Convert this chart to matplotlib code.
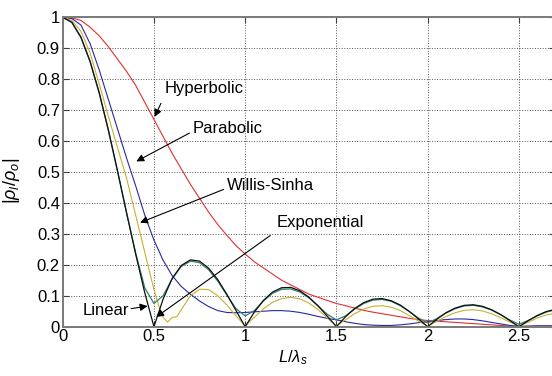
import matplotlib
matplotlib.use("Agg")
import matplotlib.pyplot as plt

# L / lambda_s sample positions (shared by most curves)
l_ratio = [0.00, 0.05, 0.10, 0.15, 0.20, 0.25, 0.30, 0.35, 0.40, 0.45,
           0.50, 0.55, 0.60, 0.65, 0.70, 0.75, 0.80, 0.85, 0.90, 0.95,
           1.00, 1.05, 1.10, 1.15, 1.20, 1.25, 1.30, 1.35, 1.40, 1.45,
           1.50, 1.55, 1.60, 1.65, 1.70, 1.75, 1.80, 1.85, 1.90, 1.95,
           2.00, 2.05, 2.10, 2.15, 2.20, 2.25, 2.30, 2.35, 2.40, 2.45,
           2.50, 2.55, 2.60, 2.65, 2.70]

exponential = [1.000, 0.984, 0.936, 0.858, 0.757, 0.637, 0.505, 0.368, 0.234, 0.109,
               0.000, 0.089, 0.156, 0.198, 0.216, 0.212, 0.189, 0.152, 0.104, 0.052,
               0.000, 0.047, 0.085, 0.112, 0.126, 0.127, 0.116, 0.095, 0.067, 0.034,
               0.000, 0.032, 0.059, 0.078, 0.089, 0.091, 0.084, 0.070, 0.049, 0.025,
               0.000, 0.024, 0.045, 0.060, 0.069, 0.071, 0.066, 0.055, 0.039, 0.020,
               0.000, 0.019, 0.036, 0.049, 0.056]

linear = [1.000, 0.983, 0.934, 0.856, 0.754, 0.634, 0.503, 0.368, 0.238, 0.125,
          0.075, 0.100, 0.155, 0.195, 0.212, 0.207, 0.184, 0.147, 0.102, 0.058,
          0.035, 0.052, 0.083, 0.108, 0.121, 0.122, 0.112, 0.093, 0.067, 0.040,
          0.022, 0.035, 0.057, 0.075, 0.086, 0.088, 0.082, 0.068, 0.049, 0.028,
          0.012, 0.026, 0.044, 0.058, 0.067, 0.069, 0.064, 0.054, 0.039, 0.022,
          0.008, 0.020, 0.035, 0.047, 0.055]

parabolic = [1.000, 0.996, 0.975, 0.915, 0.830, 0.735, 0.640, 0.545, 0.455, 0.360,
             0.280, 0.215, 0.165, 0.130, 0.105, 0.083, 0.065, 0.052, 0.046, 0.045,
             0.046, 0.048, 0.050, 0.052, 0.052, 0.050, 0.046, 0.040, 0.033, 0.027,
             0.022, 0.016, 0.011, 0.007, 0.005, 0.004, 0.004, 0.006, 0.009, 0.013,
             0.016, 0.020, 0.023, 0.025, 0.025, 0.023, 0.019, 0.014, 0.009, 0.004,
             0.001, 0.002, 0.003, 0.003, 0.003]

hyperbolic = [1.000, 0.998, 0.990, 0.968, 0.940, 0.905, 0.865, 0.825, 0.780, 0.725,
              0.670, 0.615, 0.560, 0.510, 0.460, 0.415, 0.370, 0.330, 0.295, 0.262,
              0.235, 0.210, 0.190, 0.170, 0.150, 0.135, 0.120, 0.105, 0.095, 0.085,
              0.075, 0.068, 0.060, 0.053, 0.047, 0.042, 0.037, 0.032, 0.027, 0.023,
              0.020, 0.018, 0.016, 0.014, 0.012, 0.010, 0.008, 0.006, 0.004, 0.002,
              0.001, 0.001, 0.001, 0.001, 0.001]

# Willis-Sinha has a small wiggle after its first null, so it gets its own x values
ws_ratio = [0.00, 0.05, 0.10, 0.15, 0.20, 0.25, 0.30, 0.35, 0.40, 0.45,
            0.50, 0.525, 0.55, 0.575, 0.60, 0.625, 0.65, 0.70, 0.75, 0.80,
            0.85, 0.90, 0.95, 1.00, 1.05, 1.10, 1.15, 1.20, 1.25, 1.30,
            1.35, 1.40, 1.45, 1.50, 1.55, 1.60, 1.65, 1.70, 1.75, 1.80,
            1.85, 1.90, 1.95, 2.00, 2.05, 2.10, 2.15, 2.20, 2.25, 2.30,
            2.35, 2.40, 2.45, 2.50, 2.55, 2.60, 2.65, 2.70]
willis_sinha = [1.000, 0.990, 0.955, 0.885, 0.785, 0.680, 0.580, 0.480, 0.360, 0.240,
                0.120, 0.070, 0.030, 0.015, 0.030, 0.032, 0.055, 0.100, 0.121, 0.120,
                0.100, 0.070, 0.035, 0.003, 0.030, 0.058, 0.079, 0.091, 0.095, 0.090,
                0.076, 0.055, 0.028, 0.003, 0.022, 0.042, 0.057, 0.066, 0.068, 0.063,
                0.052, 0.036, 0.018, 0.002, 0.017, 0.033, 0.045, 0.053, 0.055, 0.051,
                0.042, 0.029, 0.015, 0.002, 0.014, 0.028, 0.038, 0.044]

x_ticks = [0, 0.5, 1, 1.5, 2, 2.5]
x_tick_labels = ["0", "0.5", "1", "1.5", "2", "2.5"]
y_ticks = [0, 0.1, 0.2, 0.3, 0.4, 0.5, 0.6, 0.7, 0.8, 0.9, 1]
y_tick_labels = ["0", "0.1", "0.2", "0.3", "0.4", "0.5", "0.6", "0.7", "0.8", "0.9", "1"]

plt.rcParams["font.family"] = ["Liberation Sans", "DejaVu Sans"]
plt.rcParams["mathtext.fontset"] = "custom"
plt.rcParams["mathtext.rm"] = "Liberation Sans"
plt.rcParams["mathtext.it"] = "Liberation Sans:italic"

fig = plt.figure(figsize=(5.52, 3.76), dpi=100)
# axes runs a bit past the right border, like the cropped original
ax = fig.add_axes([0.1136, 0.1311, 0.8925, 0.8229])

ax.plot(l_ratio, hyperbolic, color="#e03030", linewidth=0.8)
ax.plot(l_ratio, parabolic, color="#2828a8", linewidth=0.8)
ax.plot(ws_ratio, willis_sinha, color="#c8b030", linewidth=0.8)
ax.plot(l_ratio, linear, color="#2e8070", linewidth=0.9)
ax.plot(l_ratio, exponential, color="#101010", linewidth=0.9)

ax.set_xlim(0, 2.7)
ax.set_ylim(0, 1)
ax.set_xticks(x_ticks)
ax.set_xticklabels(x_tick_labels)
ax.set_yticks(y_ticks)
ax.set_yticklabels(y_tick_labels)
ax.tick_params(direction="in", length=4, width=0.8, top=True, right=True,
               labelsize=12, pad=2, color="#404040")
ax.grid(True, linestyle=":", linewidth=0.7, color="#555555")
for spine in ax.spines.values():
    spine.set_color("#7a7a7a")
    spine.set_linewidth(1.4)

ax.set_xlabel(r"$L/\lambda_s$", fontsize=12)
ax.xaxis.set_label_coords(0.467, -0.07)
ax.set_ylabel(r"$|\rho_l/\rho_o|$", fontsize=13)
ax.yaxis.set_label_coords(-0.082, 0.47)

arrow = dict(arrowstyle="-|>", color="black", linewidth=0.8, mutation_scale=11)
notes = [
    ("Hyperbolic", (0.497, 0.67), (0.56, 0.77), (0.545, 0.73)),
    ("Parabolic", (0.39, 0.53), (0.71, 0.64), (0.708, 0.63)),
    ("Willis-Sinha", (0.41, 0.333), (0.90, 0.456), (0.896, 0.447)),
    ("Exponential", (0.50, 0.026), (1.175, 0.337), (1.15, 0.30)),
]
for text, tip, text_pos, tail in notes:
    ax.annotate("", xy=tip, xytext=tail, arrowprops=arrow)
    ax.text(text_pos[0], text_pos[1], text, fontsize=12, va="center", ha="left")

ax.annotate("", xy=(0.48, 0.068), xytext=(0.36, 0.057), arrowprops=arrow)
ax.text(0.11, 0.052, "Linear", fontsize=12, va="center", ha="left")

fig.savefig("out.png", dpi=100)
